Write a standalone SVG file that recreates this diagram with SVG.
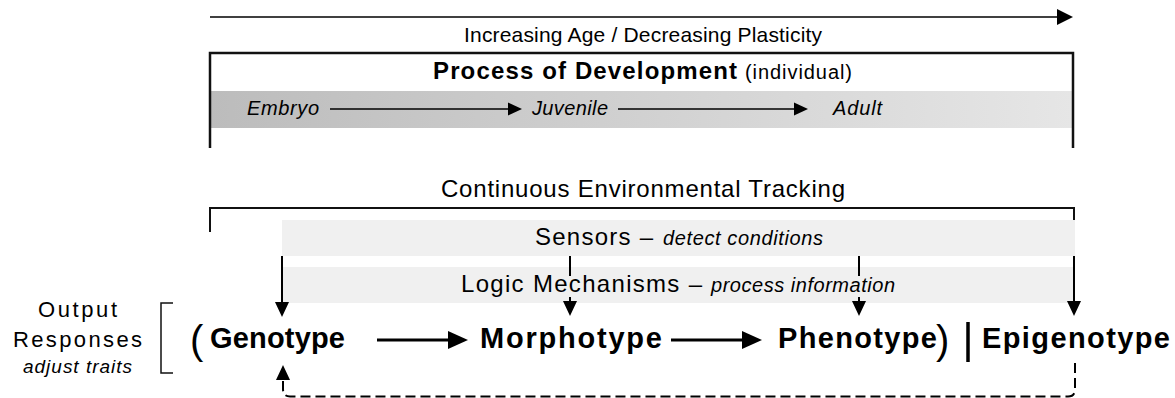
<svg xmlns="http://www.w3.org/2000/svg" width="1175" height="398" viewBox="0 0 1175 398">
<style>
text{font-family:"Liberation Sans",Arial,sans-serif;fill:#000}
.b{font-weight:bold}
.i{font-style:italic}
.frame{fill:none;stroke:#111;stroke-width:2.5}
.thin{fill:none;stroke:#111;stroke-width:1.5}
.band{fill:#f0f0f0}
.conn{fill:none;stroke:#000}
</style>
<defs>
<linearGradient id="gDev" x1="0" y1="0" x2="1" y2="0">
<stop offset="0" stop-color="#bcbcbc"/>
<stop offset="1" stop-color="#e6e6e6"/>
</linearGradient>
<marker id="mTop" markerUnits="userSpaceOnUse" markerWidth="16" markerHeight="16" viewBox="0 0 16 16" refX="0" refY="8" orient="auto" overflow="visible"><path d="M0,0 L16,8 L0,16 z" fill="#000"/></marker>
<marker id="mSm" markerUnits="userSpaceOnUse" markerWidth="14" markerHeight="13" viewBox="0 0 14 13" refX="0" refY="6.5" orient="auto" overflow="visible"><path d="M0,0 L14,6.5 L0,13 z" fill="#000"/></marker>
<marker id="mMain" markerUnits="userSpaceOnUse" markerWidth="20" markerHeight="18" viewBox="0 0 20 18" refX="0" refY="9" orient="auto" overflow="visible"><path d="M0,0 L20,9 L0,18 z" fill="#000"/></marker>
<marker id="mV" markerUnits="userSpaceOnUse" markerWidth="15" markerHeight="14" viewBox="0 0 15 14" refX="0" refY="7" orient="auto" overflow="visible"><path d="M0,0 L15,7 L0,14 z" fill="#000"/></marker>
</defs>

<g id="age-axis">
<text x="464" y="42" font-size="21" textLength="358" lengthAdjust="spacing">Increasing Age / Decreasing Plasticity</text>
</g>

<g id="development">
<rect x="211" y="91" width="862" height="37" fill="url(#gDev)"/>
<path class="frame" d="M210,148 V53 H1073 V148"/>
<text x="433" y="79" font-size="24" class="b" textLength="304" lengthAdjust="spacing">Process of Development</text>
<text x="745" y="79" font-size="20" textLength="107" lengthAdjust="spacing">(individual)</text>
<text x="247" y="115" font-size="20" class="i" textLength="72" lengthAdjust="spacing">Embryo</text>
<text x="532" y="115" font-size="20" class="i" textLength="76" lengthAdjust="spacing">Juvenile</text>
<text x="833" y="115" font-size="20" class="i" textLength="49" lengthAdjust="spacing">Adult</text>
</g>

<g id="tracking">
<text x="441" y="197" font-size="24" textLength="404" lengthAdjust="spacing">Continuous Environmental Tracking</text>
<path class="frame" style="stroke-width:2" d="M210,232 V208 H1074 V232"/>
</g>

<g id="sensors">
<rect class="band" x="282" y="220" width="793" height="36"/>
<text x="535" y="245" font-size="24" textLength="118" lengthAdjust="spacing">Sensors –</text>
<text x="663" y="245" font-size="20" class="i" textLength="160" lengthAdjust="spacing">detect conditions</text>
</g>

<g id="logic-band">
<rect class="band" x="282" y="267" width="793" height="36"/>
</g>

<g id="connectors">
<line class="conn" x1="210" y1="17" x2="1057" y2="17" stroke-width="1.5" marker-end="url(#mTop)"/>
<line class="conn" x1="330" y1="109" x2="508" y2="109" stroke-width="1.3" marker-end="url(#mSm)"/>
<line class="conn" x1="618" y1="109" x2="794" y2="109" stroke-width="1.3" marker-end="url(#mSm)"/>
<line class="conn" x1="377" y1="340" x2="448" y2="340" stroke-width="3" marker-end="url(#mMain)"/>
<line class="conn" x1="671" y1="340" x2="742" y2="340" stroke-width="3" marker-end="url(#mMain)"/>
<line class="conn" x1="282" y1="256" x2="282" y2="302" stroke-width="2" marker-end="url(#mV)"/>
<line class="conn" x1="570" y1="256" x2="570" y2="301" stroke-width="2" marker-end="url(#mV)"/>
<line class="conn" x1="859" y1="256" x2="859" y2="301" stroke-width="2" marker-end="url(#mV)"/>
<line class="conn" x1="1074" y1="256" x2="1074" y2="301" stroke-width="2" marker-end="url(#mV)"/>
<path class="conn" d="M1075,363 V389 Q1075,396.5 1068,396.5 H290 Q283,396.5 283,389 V380" stroke-width="2" stroke-dasharray="10 5" marker-end="url(#mV)"/>
</g>

<g id="logic">
<rect class="band" x="455" y="276" width="445" height="21"/>
<text x="461" y="292" font-size="24" textLength="241" lengthAdjust="spacing">Logic Mechanisms –</text>
<text x="711" y="292" font-size="20" class="i" textLength="184" lengthAdjust="spacing">process information</text>
</g>

<g id="output-responses">
<text x="38" y="317" font-size="22" textLength="79" lengthAdjust="spacing">Output</text>
<text x="13" y="347" font-size="22" textLength="129" lengthAdjust="spacing">Responses</text>
<text x="23" y="373" font-size="19" class="i" textLength="109" lengthAdjust="spacing">adjust traits</text>
<path class="thin" d="M173,303 H161 V373 H173"/>
</g>

<g id="genotype">
<text x="190" y="354" font-size="40">(</text>
<text x="210" y="348" font-size="29" class="b" textLength="135" lengthAdjust="spacing">Genotype</text>
</g>

<g id="morphotype">
<text x="480" y="348" font-size="29" class="b" textLength="182" lengthAdjust="spacing">Morphotype</text>
</g>

<g id="phenotype">
<text x="778" y="348" font-size="29" class="b" textLength="159" lengthAdjust="spacing">Phenotype</text>
<text x="936" y="354" font-size="40">)</text>
</g>

<g id="epigenotype">
<line x1="968" y1="322" x2="968" y2="362" stroke="#000" stroke-width="3.5"/>
<text x="982" y="348" font-size="29" class="b" textLength="188" lengthAdjust="spacing">Epigenotype</text>
</g>
</svg>
